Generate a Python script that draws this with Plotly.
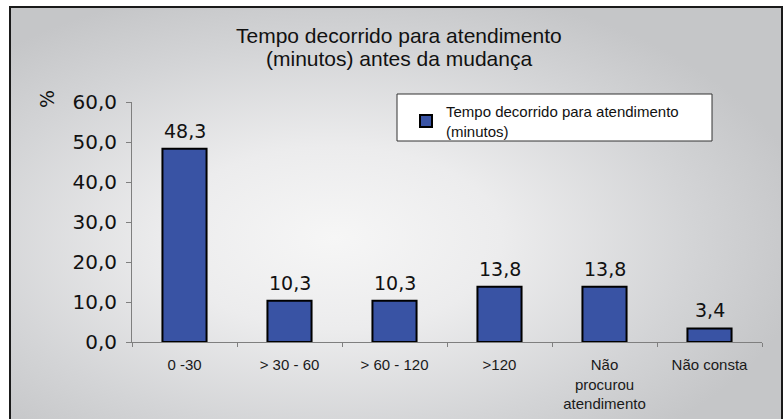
import base64
import plotly.graph_objects as go

# Data
categories = ["0 -30", "> 30 - 60", "> 60 - 120", ">120", "Não<br>procurou<br>atendimento", "Não consta"]
values = [48.3, 10.3, 10.3, 13.8, 13.8, 3.4]
value_labels = ["48,3", "10,3", "10,3", "13,8", "13,8", "3,4"]
y_ticks = [0, 10, 20, 30, 40, 50, 60]
y_tick_labels = ["0,0", "10,0", "20,0", "30,0", "40,0", "50,0", "60,0"]
series_name = "Tempo decorrido para atendimento<br>(minutos)"
title_lines = ["Tempo decorrido para atendimento", "(minutos) antes da mudança"]

W, H = 784, 419
L, R, T, B = 132, 22, 102, 77
plot_w = W - L - R
plot_h = H - T - B


def px_to_paper_x(px):
    return (px - L) / plot_w


def px_to_paper_y(py):
    return (H - B - py) / plot_h


# Radial grey background of the chart frame
svg = """<svg xmlns='http://www.w3.org/2000/svg' width='772' height='420' preserveAspectRatio='none' viewBox='0 0 772 420'>
<defs><radialGradient id='g' cx='0.42' cy='0.55' r='0.62' gradientUnits='objectBoundingBox'>
<stop offset='0' stop-color='#f6f6f6'/><stop offset='0.35' stop-color='#ececed'/>
<stop offset='0.75' stop-color='#d3d4d6'/><stop offset='1' stop-color='#c5c6c8'/></radialGradient></defs>
<rect width='772' height='420' fill='url(#g)'/></svg>"""
bg_src = "data:image/svg+xml;base64," + base64.b64encode(svg.encode()).decode()

fx0, fx1 = px_to_paper_x(10), px_to_paper_x(782)
fy1, fy0 = px_to_paper_y(7), px_to_paper_y(427)

fig = go.Figure()
fig.add_trace(go.Bar(
    x=categories,
    y=values,
    name=series_name,
    width=0.42,
    marker=dict(color="#3953a4", line=dict(color="#000000", width=2)),
    showlegend=True,
))

annotations = []
for c, v, lab in zip(categories, values, value_labels):
    annotations.append(dict(
        x=c, y=v, xref="x", yref="y", text=lab, showarrow=False,
        yanchor="bottom", yshift=5,
        font=dict(family="DejaVu Sans", size=19, color="#111111"),
    ))
# Two-line chart title
for line, ypx in zip(title_lines, [35, 58]):
    annotations.append(dict(
        x=px_to_paper_x(399), y=px_to_paper_y(ypx), xref="paper", yref="paper",
        text=line, showarrow=False, xanchor="center", yanchor="middle",
        font=dict(family="Liberation Sans, Arial", size=21, color="#111111"),
    ))
annotations.append(dict(
    x=px_to_paper_x(47), y=px_to_paper_y(99), xref="paper", yref="paper",
    text="%", textangle=-90, showarrow=False, xanchor="center", yanchor="middle",
    font=dict(family="DejaVu Sans", size=19, color="#111111"),
))

fig.update_layout(
    width=W, height=H,
    margin=dict(l=L, r=R, t=T, b=B, pad=0, autoexpand=False),
    paper_bgcolor="white",
    plot_bgcolor="rgba(0,0,0,0)",
    images=[dict(
        source=bg_src, xref="paper", yref="paper",
        x=fx0, y=fy1, sizex=fx1 - fx0, sizey=fy1 - fy0,
        sizing="stretch", layer="below", xanchor="left", yanchor="top",
    )],
    shapes=[
        dict(type="rect", xref="paper", yref="paper",
             x0=fx0, x1=fx1, y0=fy0, y1=fy1,
             line=dict(color="#1a1a1a", width=2), fillcolor="rgba(0,0,0,0)", layer="below"),
        dict(type="rect", xref="paper", yref="paper",
             x0=px_to_paper_x(397), x1=px_to_paper_x(712),
             y0=px_to_paper_y(141), y1=px_to_paper_y(94),
             line=dict(color="#333333", width=1), fillcolor="white", layer="below"),
    ],
    legend=dict(
        x=px_to_paper_x(406), y=px_to_paper_y(95), xanchor="left", yanchor="top",
        bgcolor="rgba(0,0,0,0)", borderwidth=0,
        font=dict(family="Liberation Sans, Arial", size=15, color="#111111"),
        itemwidth=30,
    ),
    annotations=annotations,
    xaxis=dict(
        type="category", automargin=False,
        showline=True, linecolor="#7f7f7f", linewidth=1,
        ticks="outside", ticklen=4, tickcolor="#7f7f7f", tickson="boundaries",
        tickfont=dict(family="Liberation Sans, Arial", size=15, color="#1a1a1a"),
        ticklabelstandoff=9,
        showgrid=False, zeroline=False, fixedrange=True,
    ),
    yaxis=dict(
        range=[0, 60], automargin=False,
        tickvals=y_ticks, ticktext=y_tick_labels,
        showline=True, linecolor="#7f7f7f", linewidth=1,
        ticks="outside", ticklen=5, tickcolor="#7f7f7f",
        tickfont=dict(family="DejaVu Sans", size=20, color="#111111"),
        ticklabelstandoff=5,
        showgrid=False, zeroline=False, fixedrange=True,
    ),
)

fig.write_html("out.html")
